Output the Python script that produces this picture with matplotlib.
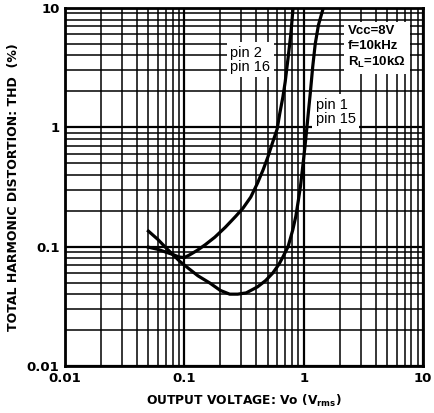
import matplotlib
matplotlib.use("Agg")
import matplotlib.pyplot as plt
from matplotlib.ticker import LogLocator, FixedLocator, NullFormatter

# data
pin1_x = [0.05, 0.06, 0.07, 0.08, 0.092, 0.11, 0.13, 0.164, 0.20, 0.24, 0.28, 0.33, 0.41, 0.48, 0.55,
          0.62, 0.67, 0.74, 0.81, 0.86, 0.90, 0.94, 0.97, 1.0, 1.03, 1.07, 1.10, 1.14, 1.19, 1.25, 1.33, 1.46]
pin1_y = [0.135, 0.115, 0.098, 0.086, 0.075, 0.065, 0.057, 0.0495, 0.043, 0.040, 0.040, 0.041, 0.046, 0.052, 0.060,
          0.071, 0.082, 0.10, 0.138, 0.18, 0.24, 0.32, 0.42, 0.55, 0.72, 1.05, 1.4, 2.0, 3.2, 5.0, 7.2, 10.0]
pin2_x = [0.05, 0.06, 0.07, 0.08, 0.09, 0.10, 0.11, 0.128, 0.15, 0.18, 0.22, 0.27, 0.31, 0.36, 0.41, 0.457,
          0.50, 0.55, 0.60, 0.63, 0.67, 0.70, 0.74, 0.78, 0.815]
pin2_y = [0.099, 0.095, 0.090, 0.086, 0.082, 0.081, 0.085, 0.093, 0.104, 0.12, 0.145, 0.18, 0.21, 0.26, 0.34, 0.44,
          0.56, 0.75, 0.97, 1.3, 1.8, 2.4, 3.8, 6.0, 10.0]

x_ticks = [0.01, 0.1, 1, 10]
x_tick_labels = ["0.01", "0.1", "1", "10"]
y_ticks = [0.01, 0.1, 1, 10]
y_tick_labels = ["0.01", "0.1", "1", "10"]

cond_text = "Vcc=8V\nf=10kHz\nR$_\\mathregular{L}$=10k\u03a9"

fig = plt.figure(figsize=(4.34, 4.13), dpi=100)
ax = fig.add_axes([65/434, 47/413, 358/434, 358/413])
ax.set_xscale("log")
ax.set_yscale("log")
ax.set_xlim(0.01, 10)
ax.set_ylim(0.01, 10)

ax.xaxis.set_major_locator(FixedLocator(x_ticks))
ax.yaxis.set_major_locator(FixedLocator(y_ticks))
ax.xaxis.set_minor_locator(LogLocator(base=10, subs=range(2, 10)))
ax.yaxis.set_minor_locator(LogLocator(base=10, subs=range(2, 10)))
ax.xaxis.set_minor_formatter(NullFormatter())
ax.yaxis.set_minor_formatter(NullFormatter())
ax.set_xticklabels(x_tick_labels, fontsize=9.5, fontweight="bold")
ax.set_yticklabels(y_tick_labels, fontsize=9.5, fontweight="bold")
ax.tick_params(which="both", length=0, pad=4)

ax.grid(which="major", color="black", lw=1.6)
ax.grid(which="minor", color="black", lw=1.1)
ax.set_axisbelow(True)
for s in ax.spines.values():
    s.set_linewidth(2.0)

ax.plot(pin1_x, pin1_y, color="black", lw=2.3, solid_joinstyle="round", zorder=3)
ax.plot(pin2_x, pin2_y, color="black", lw=2.3, solid_joinstyle="round", zorder=3)

bbox = dict(facecolor="white", edgecolor="none", pad=2.5)
ax.text(0.462, 0.855, "pin 2\npin 16", transform=ax.transAxes, fontsize=10.5,
        va="center", ha="left", linespacing=1.0, bbox=bbox, zorder=4,
        family="Liberation Sans")
ax.text(0.70, 0.71, "pin 1\npin 15", transform=ax.transAxes, fontsize=10.5,
        va="center", ha="left", linespacing=1.0, bbox=bbox, zorder=4,
        family="Liberation Sans")
ax.text(0.79, 0.89, cond_text, transform=ax.transAxes, fontsize=9.5,
        va="center", ha="left", linespacing=1.3,
        bbox=dict(facecolor="white", edgecolor="none", pad=3),
        zorder=4, family="Liberation Sans", fontweight="bold")

ax.set_xlabel("OUTPUT VOLTAGE: Vo (V$_\\mathregular{rms}$)", fontsize=8.8, fontweight="bold", labelpad=6)
ax.set_ylabel("TOTAL HARMONIC DISTORTION: THD  (%)", fontsize=9, fontweight="bold", labelpad=5)

fig.savefig("out.png", dpi=100)
